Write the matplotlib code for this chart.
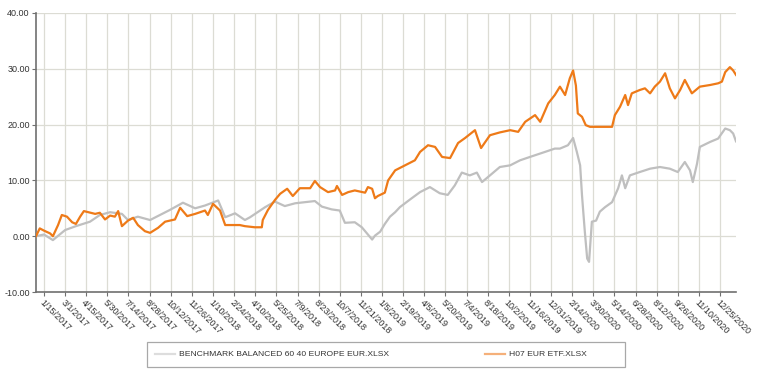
import matplotlib
matplotlib.use("Agg")
import matplotlib.pyplot as plt
import matplotlib.patches as mpatches
import pandas as pd

plt.rcParams["font.family"] = ["Liberation Sans", "DejaVu Sans"]

# ---- data ----
bench_dates = ["2016-12-29", "2017-01-15", "2017-02-03", "2017-03-01", "2017-03-24", "2017-04-23",
               "2017-05-14", "2017-06-05", "2017-06-30", "2017-07-13", "2017-08-03", "2017-08-29",
               "2017-10-10", "2017-11-07", "2017-12-03", "2017-12-24", "2018-01-21", "2018-02-05",
               "2018-02-26", "2018-03-19", "2018-03-30", "2018-05-01", "2018-05-22", "2018-06-12",
               "2018-07-04", "2018-07-25", "2018-08-15", "2018-08-30", "2018-09-20", "2018-10-07",
               "2018-10-18", "2018-11-08", "2018-11-23", "2018-12-15", "2018-12-21", "2019-01-01",
               "2019-01-11", "2019-01-22", "2019-02-02", "2019-02-12", "2019-03-06", "2019-03-27",
               "2019-04-17", "2019-05-08", "2019-05-25", "2019-06-09", "2019-06-24", "2019-07-11",
               "2019-07-26", "2019-08-06", "2019-08-23", "2019-09-13", "2019-10-05", "2019-10-26",
               "2019-11-16", "2019-12-18", "2020-01-08", "2020-01-19", "2020-02-05", "2020-02-16",
               "2020-02-24", "2020-03-02", "2020-03-06", "2020-03-12", "2020-03-17", "2020-03-21",
               "2020-03-27", "2020-04-05", "2020-04-13", "2020-04-24", "2020-05-09", "2020-05-22",
               "2020-05-30", "2020-06-06", "2020-06-16", "2020-07-07", "2020-07-29", "2020-08-19",
               "2020-09-09", "2020-09-26", "2020-10-11", "2020-10-22", "2020-10-28", "2020-11-06",
               "2020-11-12", "2020-12-04", "2020-12-21", "2021-01-05", "2021-01-15", "2021-01-22",
               "2021-01-28"]
bench_values = [0.0, 0.3, -0.7, 1.1, 1.8, 2.6,
                3.8, 4.3, 4.0, 2.9, 3.5, 2.9,
                4.7, 6.0, 5.0, 5.5, 6.4, 3.4,
                4.1, 2.9, 3.4, 5.2, 6.2, 5.4,
                5.9, 6.1, 6.3, 5.3, 4.8, 4.6,
                2.4, 2.5, 1.6, -0.6, 0.1, 0.8,
                2.2, 3.5, 4.3, 5.2, 6.6, 7.9,
                8.8, 7.7, 7.4, 9.1, 11.4, 10.9,
                11.4, 9.7, 10.9, 12.4, 12.7, 13.6,
                14.2, 15.1, 15.7, 15.7, 16.3, 17.6,
                15.1, 12.7, 7.3, 0.8, -4.0, -4.6,
                2.6, 2.8, 4.4, 5.2, 6.1, 8.6,
                10.9, 8.6, 10.9, 11.5, 12.1, 12.4,
                12.1, 11.5, 13.3, 11.8, 9.7, 13.0,
                16.0, 16.9, 17.5, 19.3, 19.0, 18.4,
                17.0]

etf_dates = ["2016-12-29", "2017-01-06", "2017-01-15", "2017-01-28", "2017-02-03", "2017-02-14",
             "2017-02-22", "2017-03-05", "2017-03-16", "2017-03-24", "2017-04-02", "2017-04-10",
             "2017-05-04", "2017-05-14", "2017-05-25", "2017-06-05", "2017-06-15", "2017-06-22",
             "2017-06-30", "2017-07-13", "2017-07-24", "2017-08-03", "2017-08-18", "2017-08-29",
             "2017-09-15", "2017-09-30", "2017-10-21", "2017-11-01", "2017-11-16", "2017-12-03",
             "2017-12-24", "2017-12-30", "2018-01-10", "2018-01-25", "2018-02-05", "2018-03-08",
             "2018-03-19", "2018-04-09", "2018-04-24", "2018-04-26", "2018-05-07", "2018-05-22",
             "2018-06-02", "2018-06-12", "2018-06-17", "2018-06-29", "2018-07-14", "2018-08-05",
             "2018-08-15", "2018-08-26", "2018-09-12", "2018-09-27", "2018-10-01", "2018-10-12",
             "2018-10-25", "2018-11-08", "2018-11-30", "2018-12-06", "2018-12-15", "2018-12-21",
             "2018-12-27", "2019-01-11", "2019-01-18", "2019-02-02", "2019-02-23", "2019-03-16",
             "2019-03-27", "2019-04-13", "2019-04-28", "2019-05-13", "2019-05-30", "2019-06-16",
             "2019-07-01", "2019-07-22", "2019-08-04", "2019-08-23", "2019-09-13", "2019-10-05",
             "2019-10-22", "2019-11-06", "2019-11-27", "2019-12-08", "2019-12-25", "2020-01-08",
             "2020-01-19", "2020-01-30", "2020-02-09", "2020-02-16", "2020-02-22", "2020-02-26",
             "2020-03-06", "2020-03-14", "2020-03-23", "2020-05-09", "2020-05-15", "2020-05-26",
             "2020-06-06", "2020-06-12", "2020-06-20", "2020-07-07", "2020-07-18", "2020-07-29",
             "2020-08-08", "2020-08-19", "2020-08-30", "2020-09-09", "2020-09-20", "2020-10-01",
             "2020-10-11", "2020-10-26", "2020-11-12", "2020-12-04", "2020-12-21", "2020-12-29",
             "2021-01-05", "2021-01-15", "2021-01-22", "2021-01-28"]
etf_values = [0.0, 1.4, 1.0, 0.5, 0.0, 2.0,
              3.8, 3.5, 2.5, 2.2, 3.5, 4.5,
              4.0, 4.2, 3.0, 3.7, 3.5, 4.5,
              1.8, 2.8, 3.3, 2.0, 0.9, 0.6,
              1.5, 2.6, 3.0, 5.1, 3.6, 4.0,
              4.6, 3.8, 5.8, 4.6, 2.0, 2.0,
              1.8, 1.6, 1.6, 2.9, 4.7, 6.5,
              7.6, 8.2, 8.5, 7.2, 8.6, 8.6,
              9.9, 8.8, 7.9, 8.2, 9.0, 7.4,
              7.9, 8.2, 7.8, 8.8, 8.5, 6.8,
              7.2, 7.8, 10.0, 11.8, 12.7, 13.6,
              15.1, 16.3, 16.0, 14.2, 14.0, 16.7,
              17.6, 19.0, 15.8, 18.1, 18.6, 19.0,
              18.7, 20.5, 21.7, 20.5, 23.8, 25.3,
              26.8, 25.3, 28.3, 29.7, 27.0, 22.0,
              21.4, 19.9, 19.6, 19.6, 21.7, 23.2,
              25.3, 23.5, 25.6, 26.2, 26.5, 25.6,
              26.8, 27.7, 29.2, 26.5, 24.7, 26.2,
              28.0, 25.6, 26.8, 27.1, 27.4, 27.7,
              29.4, 30.3, 29.7, 28.9]

series_labels = ["BENCHMARK BALANCED 60 40 EUROPE EUR.XLSX", "H07 EUR ETF.XLSX"]
y_ticks = [-10, 0, 10, 20, 30, 40]
tick_start = "2017-01-15"
tick_step_days = 45
n_ticks = 33

# ---- figure ----
W, H = 760, 374
fig = plt.figure(figsize=(W/100, H/100), dpi=100)
ax = fig.add_axes([36/W, 1-292/H, 700/W, 279/H])

bd = pd.to_datetime(bench_dates)
ed = pd.to_datetime(etf_dates)
l1, = ax.plot(bd, bench_values, color="#bfbfbf", lw=1.6, label=series_labels[0], zorder=3)
l2, = ax.plot(ed, etf_values, color="#ee7a18", lw=1.6, label=series_labels[1], zorder=4)

ax.set_ylim(-10, 40)
ax.set_xlim(pd.Timestamp("2016-12-29"), pd.Timestamp("2021-01-28"))
ax.set_yticks(y_ticks)
ax.set_yticklabels([f"{v:.2f}" for v in y_ticks], fontsize=6.5, color="#333333")

xt = pd.date_range(tick_start, periods=n_ticks, freq=f"{tick_step_days}D")
ax.set_xticks(xt)
ax.set_xticklabels([f"{d.month}/{d.day}/{d.year}" for d in xt], fontsize=6.5, color="#333333",
                   rotation=-45, ha="left", va="top", rotation_mode="anchor")

ax.grid(True, color="#dcdcd4", lw=0.9)
ax.set_axisbelow(True)
for s in ["top", "right"]:
    ax.spines[s].set_visible(False)
for s in ["left", "bottom"]:
    ax.spines[s].set_color("#707070")
    ax.spines[s].set_linewidth(1.2)
ax.tick_params(axis="both", length=3, color="#707070", pad=1.5)

# legend frame drawn as a box in figure pixels
frame = mpatches.Rectangle((147/W, 1-367/H), (625-147)/W, 25/H, transform=fig.transFigure,
                           facecolor="white", edgecolor="#a8a8a8", lw=0.9, zorder=1)
fig.patches.append(frame)
leg = fig.legend(handles=[l1, l2], loc="center left",
                 bbox_to_anchor=(155/W, 1-354.5/H), ncol=2, fontsize=6.1, frameon=False,
                 handlelength=2.36, handletextpad=0.47, columnspacing=11.3,
                 borderpad=0, borderaxespad=0)
leg.get_lines()[0].set_color("#dddddd")
leg.get_lines()[1].set_color("#f5b07a")
for t in leg.get_texts():
    t.set_color("#333333")

fig.savefig("out.png", dpi=100)
